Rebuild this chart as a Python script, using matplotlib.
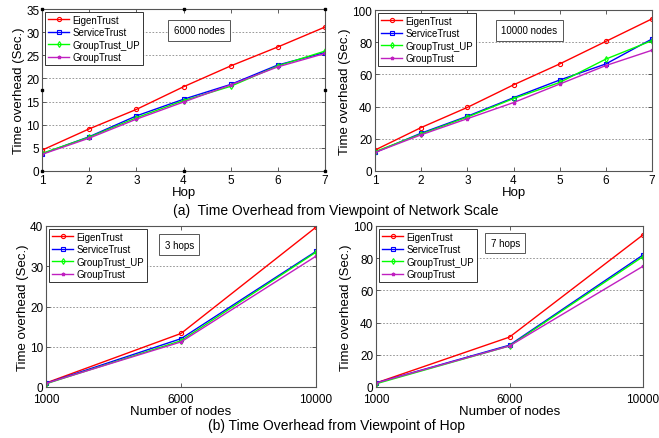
import matplotlib
matplotlib.use("Agg")
import matplotlib.pyplot as plt

plt.rcParams['font.family'] = ['Liberation Sans', 'DejaVu Sans']

series = ["EigenTrust", "ServiceTrust", "GroupTrust_UP", "GroupTrust"]
hops = [1, 2, 3, 4, 5, 6, 7]
nodes_labels = ["1000", "6000", "10000"]

# (a) 6000 nodes
a6000 = {
    "EigenTrust":    [4.5, 9.1, 13.3, 18.2, 22.7, 26.8, 31.1],
    "ServiceTrust":  [3.7, 7.4, 11.9, 15.5, 18.7, 22.9, 25.6],
    "GroupTrust_UP": [3.8, 7.3, 11.5, 15.2, 18.3, 22.7, 25.9],
    "GroupTrust":    [3.6, 7.1, 11.2, 14.9, 18.6, 22.5, 25.4],
}
# (a) 10000 nodes
a10000 = {
    "EigenTrust":    [13.0, 27.0, 39.5, 53.5, 66.5, 80.5, 94.5],
    "ServiceTrust":  [11.5, 23.5, 34.0, 45.5, 56.5, 66.5, 82.0],
    "GroupTrust_UP": [12.0, 23.0, 33.5, 45.0, 55.0, 69.5, 81.0],
    "GroupTrust":    [11.5, 22.5, 32.5, 42.5, 54.0, 65.5, 75.0],
}
# (b) 3 hops
b3 = {
    "EigenTrust":    [1.0, 13.3, 39.7],
    "ServiceTrust":  [0.9, 12.0, 33.7],
    "GroupTrust_UP": [0.8, 11.5, 33.5],
    "GroupTrust":    [0.9, 11.2, 32.5],
}
# (b) 7 hops
b7 = {
    "EigenTrust":    [2.5, 31.0, 94.5],
    "ServiceTrust":  [2.5, 26.0, 82.0],
    "GroupTrust_UP": [2.0, 25.5, 81.0],
    "GroupTrust":    [2.5, 25.5, 75.0],
}

styles = {
    "EigenTrust":    dict(color="#FF0000", marker="o", mfc="none", ms=3, mew=0.8),
    "ServiceTrust":  dict(color="#0000FF", marker="s", mfc="none", ms=3, mew=0.8),
    "GroupTrust_UP": dict(color="#00FF00", marker="d", mfc="none", ms=3, mew=0.8),
    "GroupTrust":    dict(color="#C020C0", marker="*", ms=2.5),
}

W, H = 659, 439
fig = plt.figure(figsize=(W / 100, H / 100), dpi=100)

def frac(l, t, r, b):
    return [l / W, 1 - b / H, (r - l) / W, (b - t) / H]

TICK = 8.5
LAB = 9.5

def style_ax(ax, xlabel, yticks, ylim, xpad=2):
    ax.set_ylim(*ylim)
    ax.set_yticks(yticks)
    ax.tick_params(direction="in", top=True, right=True, labelsize=TICK,
                   length=3, width=0.6, color="#444444", pad=2)
    ax.tick_params(axis="x", pad=xpad)
    for s in ax.spines.values():
        s.set_color("#555555")
        s.set_linewidth(0.8)
    ax.grid(axis="y", linestyle=(0, (2, 2)), color="#888888", linewidth=0.6)
    ax.set_xlabel(xlabel, fontsize=LAB, labelpad=0)
    ax.set_ylabel("Time overhead (Sec.)", fontsize=LAB, labelpad=1)

def legend(ax):
    leg = ax.legend(loc="upper left", fontsize=7, frameon=True, fancybox=False,
                    edgecolor="#333333", handlelength=2.2, handletextpad=0.3,
                    borderpad=0.3, labelspacing=0.25, borderaxespad=0.3,
                    framealpha=1)
    leg.get_frame().set_linewidth(0.7)

def textbox(ax, x, y, s):
    ax.text(x, y, s, transform=ax.transAxes, fontsize=7, va="top", ha="left",
            bbox=dict(boxstyle="square,pad=0.55", fc="white", ec="#555555", lw=0.7))

# Panel (a) left
ax1 = fig.add_axes(frac(42, 10, 325, 172))
for s in series:
    ax1.plot(hops, a6000[s], label=s, lw=1, **styles[s])
ax1.set_xlim(1, 7)
ax1.set_xticks(hops)
style_ax(ax1, "Hop", range(0, 36, 5), (0, 35))
legend(ax1)
textbox(ax1, 0.465, 0.9, "6000 nodes")
hx = [1, 4, 7, 1, 7, 1, 4, 7]
hy = [0, 0, 0, 17.5, 17.5, 35, 35, 35]
ax1.plot(hx, hy, ls="none", marker="s", ms=2, color="black", clip_on=False, zorder=5)

# Panel (a) right
ax2 = fig.add_axes(frac(375, 11, 652, 172))
for s in series:
    ax2.plot(hops, a10000[s], label=s, lw=1, **styles[s])
ax2.set_xlim(1, 7)
ax2.set_xticks(hops)
style_ax(ax2, "Hop", range(0, 101, 20), (0, 100))
legend(ax2)
textbox(ax2, 0.455, 0.905, "10000 nodes")

# Panel (b) left
xpos = list(range(len(nodes_labels)))
ax3 = fig.add_axes(frac(46, 227, 316, 388))
for s in series:
    ax3.plot(xpos, b3[s], label=s, lw=1, **styles[s])
ax3.set_xlim(0, 2)
ax3.set_xticks(xpos)
ax3.set_xticklabels(nodes_labels)
style_ax(ax3, "Number of nodes", range(0, 41, 10), (0, 40), xpad=4.5)
legend(ax3)
textbox(ax3, 0.44, 0.915, "3 hops")

# Panel (b) right
ax4 = fig.add_axes(frac(376, 227, 643, 388))
for s in series:
    ax4.plot(xpos, b7[s], label=s, lw=1, **styles[s])
ax4.set_xlim(0, 2)
ax4.set_xticks(xpos)
ax4.set_xticklabels(nodes_labels)
style_ax(ax4, "Number of nodes", range(0, 101, 20), (0, 100), xpad=4.5)
legend(ax4)
textbox(ax4, 0.43, 0.925, "7 hops")

fig.text(336 / W, 1 - 211 / H, "(a)  Time Overhead from Viewpoint of Network Scale",
         ha="center", va="center", fontsize=10)
fig.text(336 / W, 1 - 426 / H, "(b) Time Overhead from Viewpoint of Hop",
         ha="center", va="center", fontsize=10)

fig.savefig("out.png", dpi=100)
